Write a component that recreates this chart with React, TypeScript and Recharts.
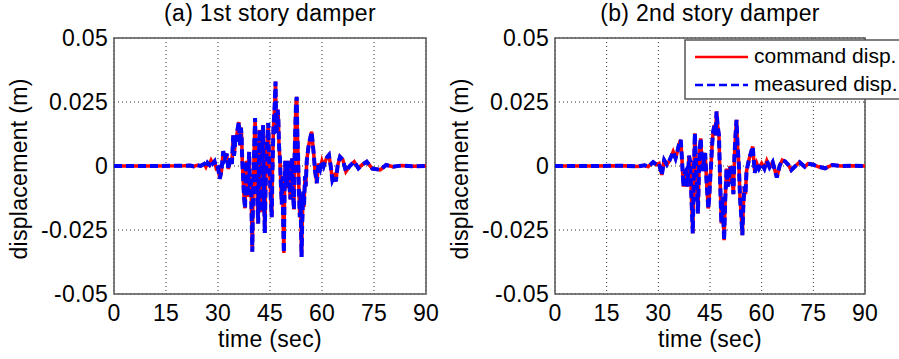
import { CartesianGrid, Line, LineChart, ReferenceArea, XAxis, YAxis } from 'recharts'

// time axis (sec) and displacement (m)
const time1 = [
  0, 10, 20, 22, 23, 24, 25, 26, 26.5, 27,
  27.5, 28, 28.5, 29, 29.5, 30, 30.5, 31, 31.5, 32,
  32.5, 33, 33.5, 34, 34.2, 34.4, 34.6, 34.8, 35.0, 35.3,
  35.6, 36.0, 36.2, 36.4, 36.6, 36.8, 37.0, 37.3, 37.5, 37.8,
  38.0, 38.2, 38.4, 38.6, 38.8, 39.0, 39.2, 39.5, 39.7, 39.9,
  40.1, 40.3, 40.5, 40.7, 40.9, 41.1, 41.3, 41.6, 41.8, 42.0,
  42.2, 42.5, 42.7, 43.0, 43.2, 43.5, 43.7, 44.0, 44.2, 44.5,
  44.7, 45.0, 45.2, 45.5, 45.7, 46.0, 46.3, 46.6, 46.8, 47.0,
  47.2, 47.4, 47.6, 47.9, 48.1, 48.4, 48.6, 48.8, 49.0, 49.2,
  49.4, 49.6, 49.9, 50.1, 50.4, 50.6, 50.9, 51.1, 51.4, 51.6,
  51.9, 52.1, 52.3, 52.5, 52.7, 52.9, 53.1, 53.3, 53.6, 53.8,
  54.1, 54.3, 54.6, 54.8, 55.1, 55.3, 55.6, 56.1, 57.0, 57.6,
  58.0, 58.5, 59.0, 59.5, 60.0, 60.5, 61.0, 61.5, 62.0, 62.5,
  63.0, 63.5, 64.0, 64.5, 65.2, 66.0, 66.9, 68.0, 69.3, 70.5,
  71.5, 72.9, 74.5, 76.8, 78.5, 80.5, 83, 86, 90,
]
const command1 = [
  0, 0, 0.0001, 0.0002, -0.0002, 0.0003, 0, 0.0008, -0.0004, 0.0012,
  0.0005, 0.0022, 0.001, 0.0018, -0.001, -0.0006, -0.005, -0.002, 0.0058, 0.003,
  0.0048, -0.0012, 0.003, 0.0008, 0.006, 0.012, 0.004, 0.006, 0.011, 0.0095,
  0.014, 0.0172, 0.012, 0.008, 0.015, 0.012, 0.002, -0.006, -0.012, -0.0165,
  -0.004, 0.002, -0.009, -0.012, 0, 0.0055, -0.008, -0.005, -0.02, -0.0335,
  -0.012, -0.002, 0.01, 0.0187, 0.006, 0, -0.012, -0.0225, 0.002, 0.0141,
  -0.004, -0.018, 0.001, 0.016, -0.006, -0.0262, -0.01, 0.004, 0.01, 0.0168,
  0.004, -0.005, -0.012, -0.02, -0.002, 0.015, 0.022, 0.033, 0.014, 0.0143,
  0.022, 0.019, 0.008, 0.002, -0.006, -0.015, -0.004, -0.022, -0.034, -0.01,
  0.002, -0.006, -0.0086, -0.002, 0.002, -0.008, -0.013, -0.004, 0.003, -0.01,
  -0.017, 0.004, 0.015, 0.024, 0.027, 0.012, 0.0043, -0.008, -0.02, -0.012,
  -0.0355, -0.022, -0.01, -0.016, -0.004, -0.008, 0.002, 0.0076, 0.0134, 0.005,
  -0.002, -0.0067, 0.001, -0.001, 0.002, 0, 0.002, 0.0035, 0.0043, 0,
  -0.0055, -0.004, -0.006, 0, 0.0036, 0.0025, -0.0022, 0, 0.0017, -0.0009,
  0.0004, 0.0017, -0.001, -0.0015, 0.0004, -0.0003, 0.0002, -0.0001, 0,
]
// measured tracks the command within a pixel
const measured1 = command1

const time2 = [
  0, 10, 20, 24, 26, 27, 28.5, 29.5, 30.2, 31,
  31.7, 32.5, 33.2, 34.3, 35.0, 35.6, 36.0, 36.5, 36.8, 37.3,
  37.6, 38.0, 38.3, 38.6, 38.9, 39.2, 39.6, 40.0, 40.3, 40.6,
  40.9, 41.2, 41.5, 41.8, 42.0, 42.3, 42.6, 43.0, 43.3, 43.6,
  44.0, 44.5, 44.8, 45.1, 45.3, 45.6, 45.9, 46.3, 46.6, 46.9,
  47.2, 47.6, 47.9, 48.3, 48.6, 48.8, 49.1, 49.4, 49.8, 50.1,
  50.5, 50.8, 51.2, 51.5, 51.8, 52.1, 52.4, 52.7, 53.0, 53.4,
  53.7, 54.1, 54.4, 54.7, 55.0, 55.3, 55.6, 56.4, 57.4, 58.0,
  58.6, 59.2, 60.0, 60.8, 61.5, 62.3, 63.2, 64.4, 65.2, 66.0,
  66.8, 67.7, 68.6, 69.8, 71.0, 72.5, 73.5, 75.0, 76.5, 78.4,
  80.5, 83, 86, 90,
]
const command2 = [
  0, 0, 0.0001, -0.0002, 0.0003, -0.0003, 0.0015, 0.0005, 0.001, -0.0035,
  0.0023, 0.0005, 0.002, 0.0056, 0.003, 0.006, 0.0085, 0.0102, 0.004, -0.0081,
  -0.003, -0.002, -0.008, -0.005, 0.004, 0.002, -0.012, -0.0263, -0.004, 0.0128,
  0.002, -0.008, -0.0185, -0.002, 0.006, 0.0108, 0.003, -0.002, 0.004, 0.005,
  -0.006, -0.0166, -0.012, -0.004, 0, 0.008, 0.0134, 0.016, 0.012, 0.0213,
  0.016, 0.012, -0.004, -0.0224, -0.012, -0.018, -0.029, -0.014, -0.001, -0.008,
  -0.006, 0, -0.002, -0.006, -0.011, 0.004, 0.012, 0.018, 0.008, 0,
  -0.012, -0.02, -0.027, -0.015, -0.008, -0.011, -0.002, 0.003, 0.0076, -0.0027,
  0.001, -0.001, 0.001, -0.001, 0.002, -0.0005, 0.0015, -0.0045, 0, 0.0023,
  0.0018, 0.0005, -0.0016, 0, 0.0015, -0.0003, 0.0009, 0.0005, -0.0003, -0.0009,
  0.0004, 0, 0.0001, 0,
]
const measured2 = command2

const xTicks = [0, 15, 30, 45, 60, 75, 90]
const yTicks = [-0.05, -0.025, 0, 0.025, 0.05]
const titles = ['(a) 1st story damper', '(b) 2nd story damper']
const seriesNames = ['command disp.', 'measured disp.']

const FONT = '"Liberation Sans", Arial, Helvetica, sans-serif'
const TEXT = { fontFamily: FONT, fontSize: 23, letterSpacing: 0.3, fill: '#000' }

function build(t: number[], cmd: number[], meas: number[]) {
  return t.map((x, i) => ({ t: x, cmd: cmd[i], meas: meas[i] }))
}

function Panel({
  data,
  width,
  yWidth,
  right,
}: {
  data: Array<{ t: number; cmd: number; meas: number }>
  width: number
  yWidth: number
  right: number
}) {
  return (
    <LineChart width={width} height={359} data={data} margin={{ top: 38, right, bottom: 35, left: 0 }}>
      <CartesianGrid stroke="#333" strokeDasharray="1 3" strokeWidth={1} />
      <XAxis
        dataKey="t"
        type="number"
        domain={[0, 90]}
        ticks={xTicks}
        interval={0}
        height={30}
        tickSize={0}
        tickMargin={11}
        axisLine={false}
        tickLine={false}
        tick={TEXT}
      />
      <YAxis
        type="number"
        domain={[-0.05, 0.05]}
        ticks={yTicks}
        interval={0}
        width={yWidth}
        tickSize={0}
        tickMargin={6}
        axisLine={false}
        tickLine={false}
        tick={TEXT}
        tickFormatter={(v) => String(v)}
      />
      <Line
        dataKey="cmd"
        type="linear"
        stroke="#ff0000"
        strokeWidth={3.5}
        dot={false}
        isAnimationActive={false}
      />
      <Line
        dataKey="meas"
        type="linear"
        stroke="#0000ff"
        strokeWidth={4}
        strokeDasharray="8 4"
        dot={false}
        isAnimationActive={false}
      />
      <ReferenceArea x1={0} x2={90} y1={-0.05} y2={0.05} fill="none" stroke="#555" strokeWidth={1.5} />
    </LineChart>
  )
}

export default function App() {
  const d1 = build(time1, command1, measured1)
  const d2 = build(time2, command2, measured2)
  const labelStyle = { fontFamily: FONT, fontSize: 23, letterSpacing: 0.3 }
  const legendStyle = { fontFamily: FONT, fontSize: 21 }
  return (
    <div style={{ position: 'absolute', left: 0, top: 0, width: 899, height: 359, background: '#fff' }}>
      <div style={{ position: 'absolute', left: 0, top: 0 }}>
        <Panel data={d1} width={450} yWidth={114} right={24} />
      </div>
      <div style={{ position: 'absolute', left: 450, top: 0 }}>
        <Panel data={d2} width={449} yWidth={105} right={34} />
      </div>
      <svg width={899} height={359} style={{ position: 'absolute', left: 0, top: 0, pointerEvents: 'none' }}>
        <g style={labelStyle} fill="#000">
          <text x={270} y={21} textAnchor="middle">{titles[0]}</text>
          <text x={710} y={21} textAnchor="middle">{titles[1]}</text>
          <text x={270} y={347} textAnchor="middle">time (sec)</text>
          <text x={710} y={347} textAnchor="middle">time (sec)</text>
          <text x={27} y={169} textAnchor="middle" transform="rotate(-90 27 169)">displacement (m)</text>
          <text x={468} y={169} textAnchor="middle" transform="rotate(-90 468 169)">displacement (m)</text>
        </g>
        <rect x={685} y={40} width={216} height={59} fill="#fff" stroke="#555" strokeWidth={1.5} />
        <line x1={695} y1={57} x2={748} y2={57} stroke="#ff0000" strokeWidth={2.5} />
        <line x1={695} y1={85} x2={748} y2={85} stroke="#0000ff" strokeWidth={2.5} strokeDasharray="8 4" />
        <g style={legendStyle} fill="#000">
          <text x={754} y={63}>{seriesNames[0]}</text>
          <text x={754} y={91}>{seriesNames[1]}</text>
        </g>
      </svg>
    </div>
  )
}
